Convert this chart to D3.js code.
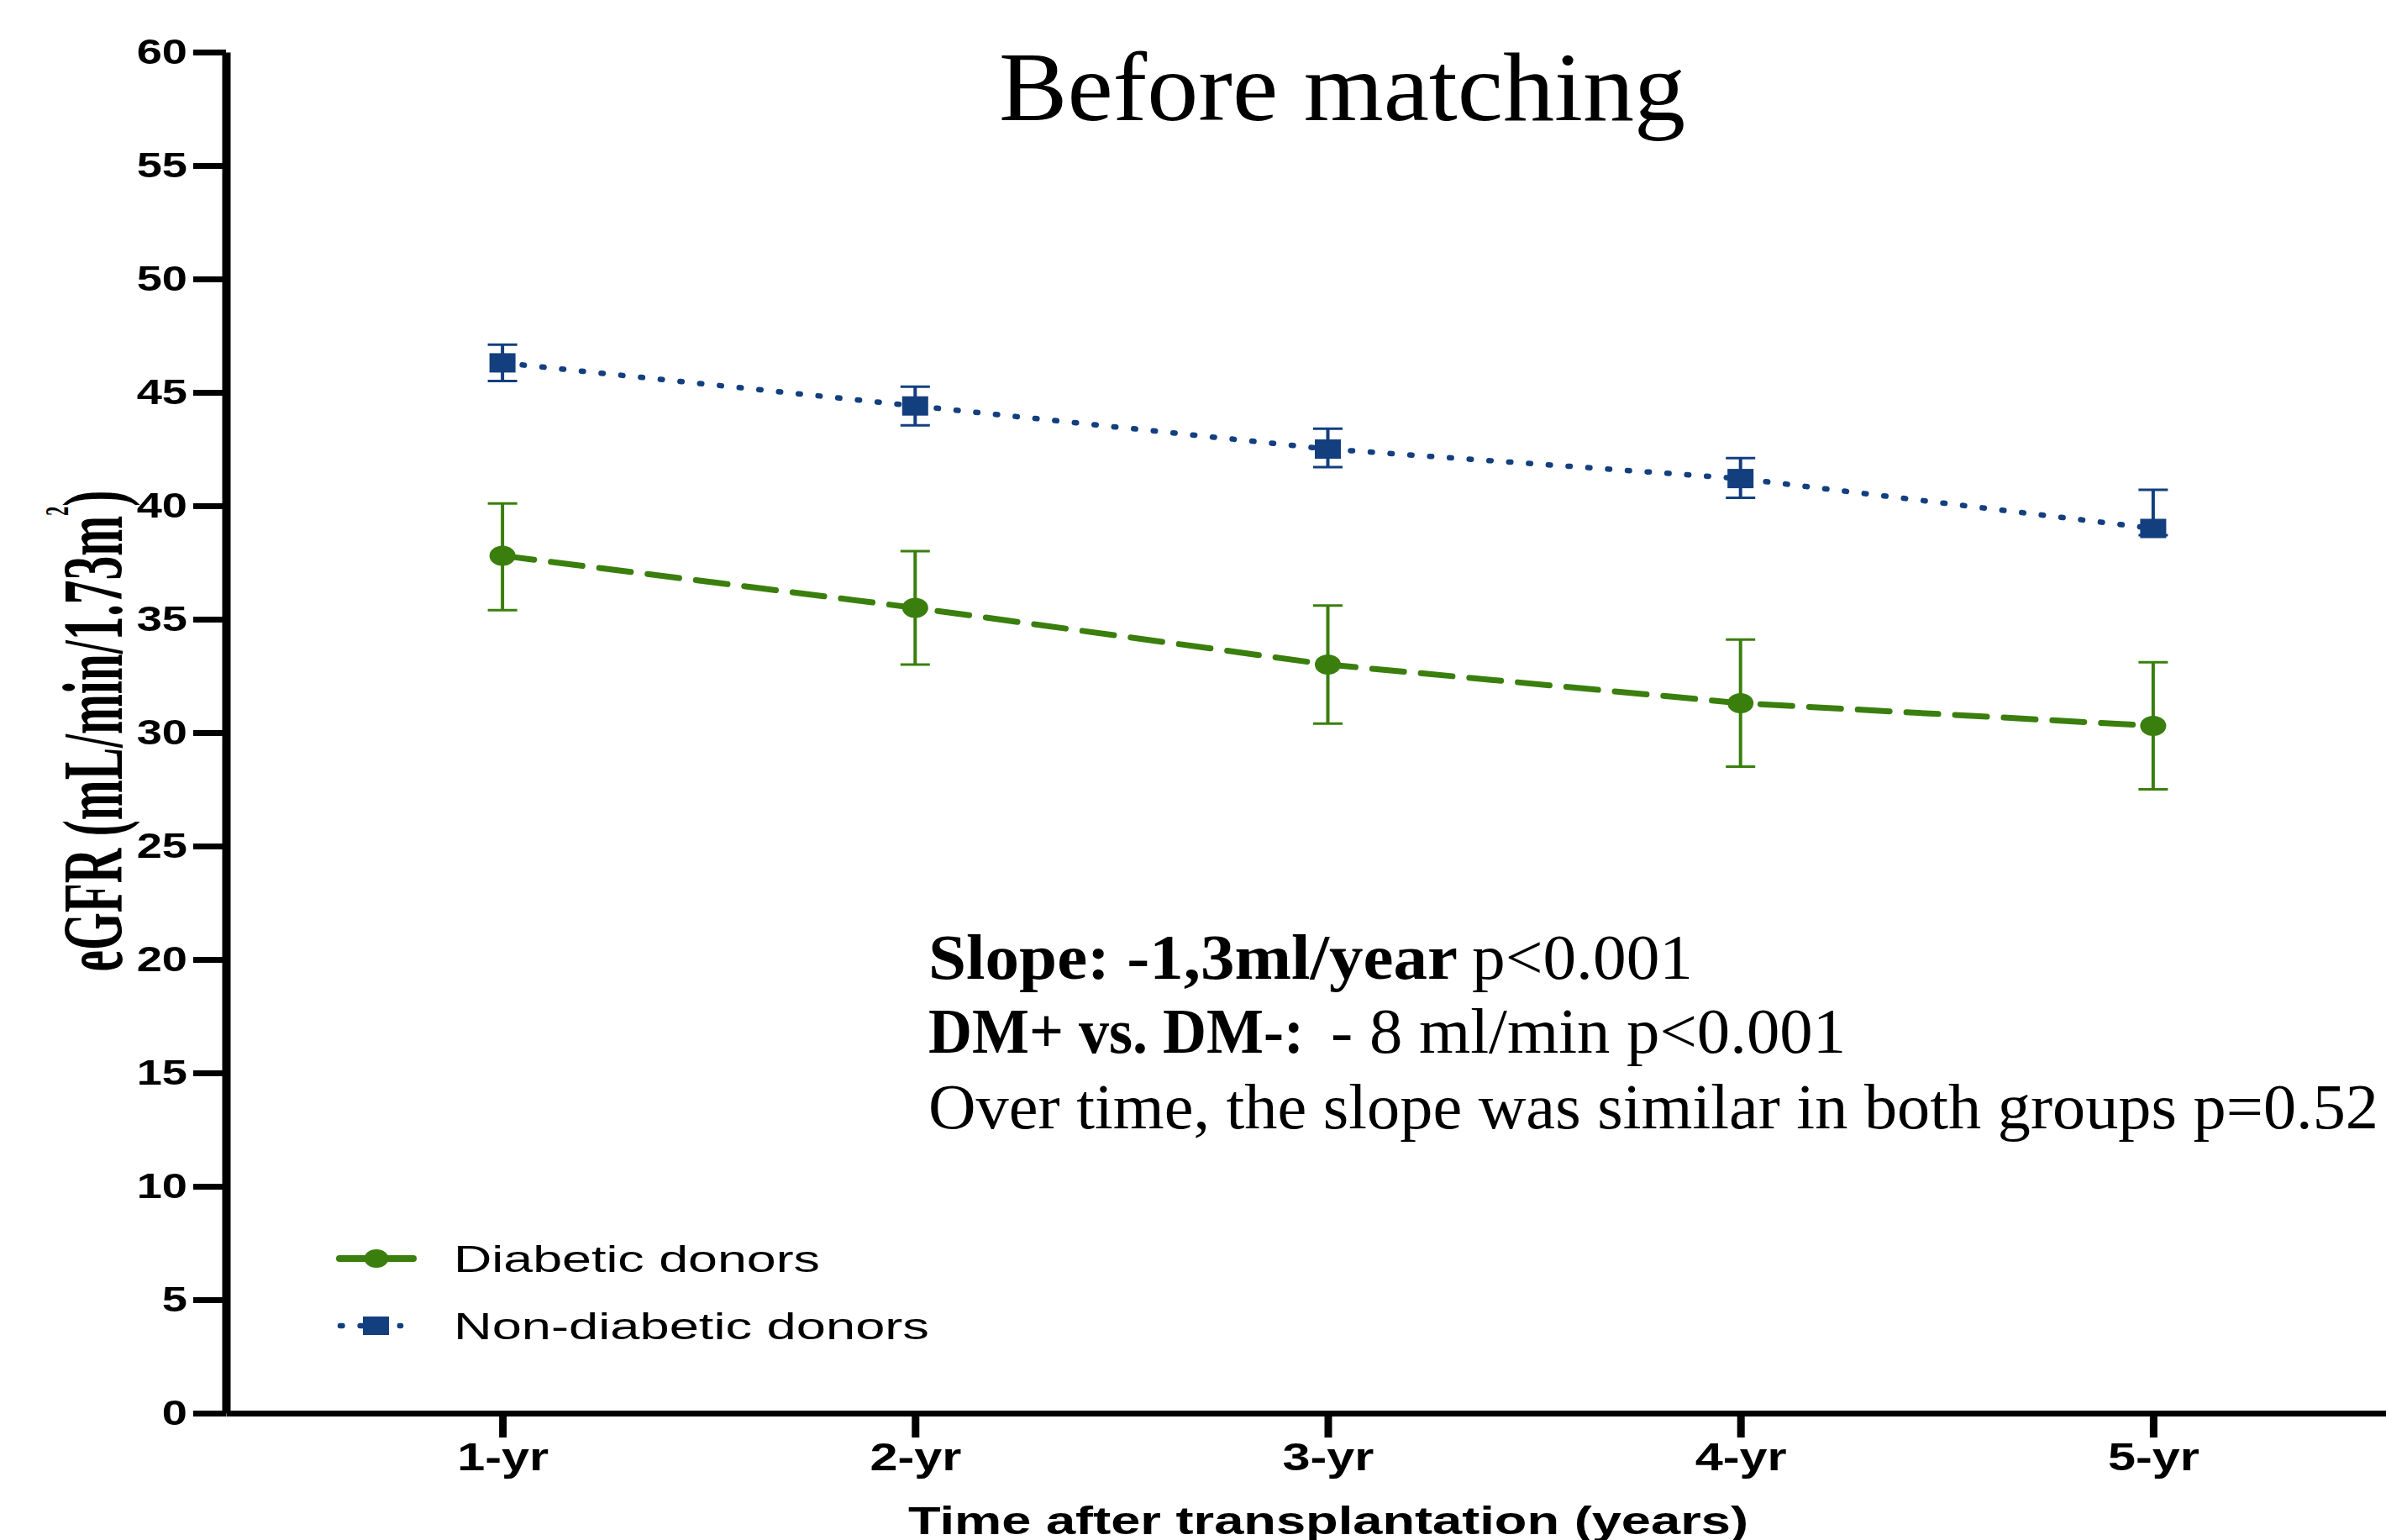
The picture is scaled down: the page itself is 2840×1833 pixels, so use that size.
<!DOCTYPE html>
<html lang="en">
<head>
  <meta charset="UTF-8">
  <title>Before matching - eGFR</title>
  <script src="https://d3js.org/d3.v7.min.js"></script>
  <style>
    body { margin: 0; background: #fff; }
    .tick text { font-family: "Liberation Sans", Arial, sans-serif; font-weight: bold; fill: #000; }
  </style>
</head>
<body>
<script>
  // categories and series
  const years = ["1-yr", "2-yr", "3-yr", "4-yr", "5-yr"];
  const yTicks = [0, 5, 10, 15, 20, 25, 30, 35, 40, 45, 50, 55, 60];
  const seriesNames = ["Diabetic donors", "Non-diabetic donors"];

  const diabetic = [37.8, 35.5, 33.0, 31.3, 30.3];
  const diabeticErrUp = [2.3, 2.5, 2.6, 2.8, 2.8];
  const diabeticErrDown = [2.4, 2.5, 2.6, 2.8, 2.8];

  const nonDiabetic = [46.3, 44.4, 42.5, 41.2, 39.0];
  const nonDiabeticErrUp = [0.8, 0.85, 0.9, 0.9, 1.7];
  const nonDiabeticErrDown = [0.8, 0.85, 0.8, 0.85, 0.3];

  const green = "#3a7f0d";
  const blue = "#133f7f";

  // Set Dimensions
  const width = 2840;
  const height = 1833;

  const svg = d3.select("body")
    .append("svg")
    .attr("width", width)
    .attr("height", height);

  const x = d3.scalePoint()
    .domain(years)
    .range([269, 2892])
    .padding(0.67);

  const y = d3.scaleLinear()
    .domain([0, 60])
    .range([1682, 62]);

  // stretch a selection of text elements horizontally by k (the picture is stretched)
  function stretch(sel, k) {
    sel.each(function () {
      const w = this.getComputedTextLength();
      d3.select(this)
        .attr("textLength", w * k)
        .attr("lengthAdjust", "spacingAndGlyphs");
    });
  }

  // Y axis
  const yAxis = svg.append("g")
    .attr("transform", "translate(269,0)")
    .call(d3.axisLeft(y).tickValues(yTicks).tickSize(39).tickSizeOuter(0).tickPadding(7));
  yAxis.select(".domain").attr("stroke", "#000").attr("stroke-width", 10);
  yAxis.selectAll(".tick line").attr("stroke", "#000").attr("stroke-width", 7);
  yAxis.selectAll(".tick text").attr("font-size", 43);
  stretch(yAxis.selectAll(".tick text"), 1.26);

  // X axis
  const xAxis = svg.append("g")
    .attr("transform", "translate(0,1682)")
    .call(d3.axisBottom(x).tickSize(29).tickSizeOuter(0).tickPadding(6));
  xAxis.select(".domain").attr("stroke", "#000").attr("stroke-width", 7);
  xAxis.selectAll(".tick line").attr("stroke", "#000").attr("stroke-width", 9);
  xAxis.selectAll(".tick text").attr("font-size", 46);
  stretch(xAxis.selectAll(".tick text"), 1.29);

  // axis titles
  svg.append("text")
    .attr("x", 1581)
    .attr("y", 1826)
    .attr("text-anchor", "middle")
    .attr("font-family", "'Liberation Sans', Arial, sans-serif")
    .attr("font-weight", "bold")
    .attr("font-size", 46)
    .attr("textLength", 1000)
    .attr("lengthAdjust", "spacingAndGlyphs")
    .text("Time after transplantation (years)");

  const yLabel = svg.append("text")
    .attr("transform", "translate(145,870) rotate(-90)")
    .attr("text-anchor", "middle")
    .attr("font-family", "'Liberation Serif', 'Times New Roman', serif")
    .attr("font-weight", "bold")
    .attr("font-size", 102)
    .attr("textLength", 573)
    .attr("lengthAdjust", "spacingAndGlyphs");
  yLabel.append("tspan").text("eGFR (mL/min/1.73m");
  yLabel.append("tspan").attr("font-size", 40).attr("dy", -64).text("2");
  yLabel.append("tspan").attr("dy", 64).text(")");

  // title
  svg.append("text")
    .attr("x", 1189)
    .attr("y", 143)
    .attr("font-family", "'Liberation Serif', 'Times New Roman', serif")
    .attr("font-size", 116)
    .attr("textLength", 817)
    .attr("lengthAdjust", "spacingAndGlyphs")
    .text("Before matching");

  // lines
  const line = d3.line()
    .x((d, i) => x(years[i]))
    .y(d => y(d));

  svg.append("path")
    .datum(nonDiabetic)
    .attr("fill", "none")
    .attr("stroke", blue)
    .attr("stroke-width", 6.5)
    .attr("stroke-linecap", "round")
    .attr("stroke-dasharray", "2.5 21.1")
    .attr("d", line);

  svg.append("path")
    .datum(diabetic)
    .attr("fill", "none")
    .attr("stroke", green)
    .attr("stroke-width", 7)
    .attr("stroke-linecap", "round")
    .attr("stroke-dasharray", "38 20")
    .attr("d", line);

  // error bars
  function errorBars(values, up, down, color) {
    const g = svg.append("g").attr("stroke", color);
    values.forEach((v, i) => {
      const cx = x(years[i]);
      const top = y(v + up[i]);
      const bot = y(v - down[i]);
      g.append("line")
        .attr("x1", cx).attr("x2", cx)
        .attr("y1", top).attr("y2", bot)
        .attr("stroke-width", 4);
      g.append("line")
        .attr("x1", cx - 17.5).attr("x2", cx + 17.5)
        .attr("y1", top).attr("y2", top)
        .attr("stroke-width", 3);
      g.append("line")
        .attr("x1", cx - 17.5).attr("x2", cx + 17.5)
        .attr("y1", bot).attr("y2", bot)
        .attr("stroke-width", 3);
    });
  }
  errorBars(nonDiabetic, nonDiabeticErrUp, nonDiabeticErrDown, blue);
  errorBars(diabetic, diabeticErrUp, diabeticErrDown, green);

  // markers
  svg.selectAll("rect.sq")
    .data(nonDiabetic)
    .enter()
    .append("rect")
    .attr("class", "sq")
    .attr("x", (d, i) => x(years[i]) - 15.5)
    .attr("y", d => y(d) - 11.5)
    .attr("width", 31)
    .attr("height", 23)
    .attr("fill", blue);

  svg.selectAll("ellipse.dot")
    .data(diabetic)
    .enter()
    .append("ellipse")
    .attr("class", "dot")
    .attr("cx", (d, i) => x(years[i]))
    .attr("cy", d => y(d))
    .attr("rx", 15.5)
    .attr("ry", 12)
    .attr("fill", green);

  // legend
  const legend = svg.append("g");
  legend.append("line")
    .attr("x1", 404).attr("x2", 492)
    .attr("y1", 1498).attr("y2", 1498)
    .attr("stroke", green)
    .attr("stroke-width", 8)
    .attr("stroke-linecap", "round");
  legend.append("ellipse")
    .attr("cx", 448).attr("cy", 1498)
    .attr("rx", 14.5).attr("ry", 11)
    .attr("fill", green);
  legend.append("line")
    .attr("x1", 405).attr("x2", 477)
    .attr("y1", 1578).attr("y2", 1578)
    .attr("stroke", blue)
    .attr("stroke-width", 6.5)
    .attr("stroke-linecap", "round")
    .attr("stroke-dasharray", "2.5 21.1");
  legend.append("rect")
    .attr("x", 432).attr("y", 1567)
    .attr("width", 31).attr("height", 22)
    .attr("fill", blue);

  const legendWidths = [436, 566];
  const legendBase = [1514, 1594];
  seriesNames.forEach((name, i) => {
    legend.append("text")
      .attr("x", 540)
      .attr("y", legendBase[i])
      .attr("font-family", "'Liberation Sans', Arial, sans-serif")
      .attr("font-size", 45)
      .attr("textLength", legendWidths[i])
      .attr("lengthAdjust", "spacingAndGlyphs")
      .text(name);
  });

  // annotation
  const notes = [
    {x: 1105, y: 1165, w: 630, bold: true, t: "Slope: -1,3ml/year"},
    {x: 1752, y: 1165, w: 263, bold: false, t: "p<0.001"},
    {x: 1105, y: 1253, w: 447, bold: true, t: "DM+ vs. DM-:"},
    {x: 1584, y: 1253, w: 613, bold: false, t: "- 8 ml/min p<0.001"},
    {x: 1105, y: 1343, w: 1726, bold: false, t: "Over time, the slope was similar in both groups p=0.52"}
  ];
  svg.selectAll("text.note")
    .data(notes)
    .enter()
    .append("text")
    .attr("class", "note")
    .attr("x", d => d.x)
    .attr("y", d => d.y)
    .attr("font-family", "'Liberation Serif', 'Times New Roman', serif")
    .attr("font-weight", d => d.bold ? "bold" : "normal")
    .attr("font-size", 76)
    .attr("textLength", d => d.w)
    .attr("lengthAdjust", "spacingAndGlyphs")
    .text(d => d.t);
</script>
</body>
</html>
